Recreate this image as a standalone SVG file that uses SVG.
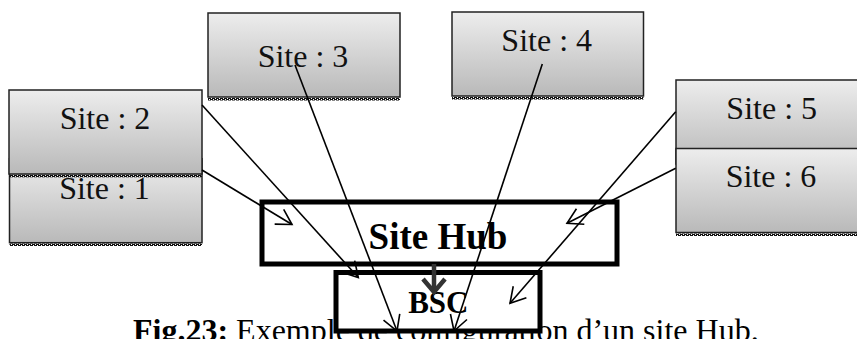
<svg xmlns="http://www.w3.org/2000/svg" width="857" height="339" viewBox="0 0 857 339">
  <defs>
    <linearGradient id="siteFill" x1="0" y1="0" x2="0" y2="1">
      <stop offset="0" stop-color="#ededed"/>
      <stop offset="1" stop-color="#b9b9b9"/>
    </linearGradient>
    <!-- checkered strip under each site box -->
    <pattern id="shade" width="4" height="2" patternUnits="userSpaceOnUse">
      <rect x="0" y="0" width="3" height="1" fill="#111"/>
      <rect x="2" y="1" width="2" height="1" fill="#111"/>
      <rect x="0" y="1" width="1" height="1" fill="#111"/>
    </pattern>
    <marker id="openArrow" viewBox="-20 -12 24 24" refX="0" refY="0" markerWidth="24" markerHeight="24" markerUnits="userSpaceOnUse" orient="auto" overflow="visible">
      <path d="M -15 -8.7 L 0 0 L -15 8.7" fill="none" stroke="#000" stroke-width="1.6"/>
    </marker>
    <style>
      .site { fill: url(#siteFill); stroke: #222; stroke-width: 1.5; }
      .shade { fill: url(#shade); }
      .lbl { font-family: "Liberation Serif", "Times New Roman", serif; font-size: 32px; fill: #111; text-anchor: middle; }
      .core { fill: #fff; stroke: #000; stroke-width: 5; }
      .coreLbl { font-family: "Liberation Serif", "Times New Roman", serif; font-weight: bold; fill: #000; text-anchor: middle; }
      .link { fill: none; stroke: #000; stroke-width: 1.6; marker-end: url(#openArrow); }
      .caption { font-family: "Liberation Serif", "Times New Roman", serif; font-size: 32px; fill: #000; }
    </style>
  </defs>

  <rect width="857" height="339" fill="#fff"/>

  <!-- remote sites -->
  <g id="node-site-1">
    <rect class="site" x="9.5" y="158.7" width="192.5" height="84"/>
    <rect class="shade" x="9.5" y="243.5" width="192.5" height="2.5"/>
    <text class="lbl" x="104.5" y="199.3">Site : 1</text>
  </g>
  <g id="node-site-5">
    <rect class="site" x="676" y="80" width="192" height="84"/>
    <text class="lbl" x="771.7" y="119.3">Site : 5</text>
  </g>
  <g id="node-site-2">
    <rect class="site" x="9" y="90" width="193" height="84"/>
    <rect class="shade" x="9" y="174.8" width="193" height="2.5"/>
    <text class="lbl" x="105" y="129.3">Site : 2</text>
  </g>
  <g id="node-site-3">
    <rect class="site" x="208" y="13" width="192" height="84"/>
    <rect class="shade" x="208" y="98" width="192" height="2.5"/>
    <text class="lbl" x="303" y="66.7">Site : 3</text>
  </g>
  <g id="node-site-4">
    <rect class="site" x="452" y="12" width="191.5" height="84"/>
    <rect class="shade" x="452" y="97" width="191.5" height="2.5"/>
    <text class="lbl" x="546.7" y="50.5">Site : 4</text>
  </g>
  <g id="node-site-6">
    <rect class="site" x="676" y="148.5" width="192" height="84"/>
    <rect class="shade" x="676" y="233.5" width="192" height="2.5"/>
    <text class="lbl" x="771" y="187.3">Site : 6</text>
  </g>

  <!-- figure caption, partly hidden behind the BSC box -->
  <g id="caption">
    <text class="caption" x="133" y="341"><tspan font-weight="bold">Fig.23:</tspan> Exemple de configuration d’un site Hub.</text>
  </g>

  <!-- aggregation hub and controller -->
  <g id="node-hub">
    <rect class="core" x="262" y="202" width="355" height="62"/>
    <text class="coreLbl" x="438" y="249" font-size="37">Site Hub</text>
  </g>
  <g id="node-bsc">
    <rect class="core" x="336" y="272.5" width="204" height="58.5"/>
    <text class="coreLbl" x="438.3" y="313.3" font-size="31">BSC</text>
  </g>

  <!-- links from the sites -->
  <g id="connectors">
    <line class="link" x1="202" y1="170" x2="292" y2="224.5"/>
    <line class="link" x1="202" y1="105" x2="358.3" y2="277.5"/>
    <line class="link" x1="295" y1="65" x2="397" y2="331"/>
    <line class="link" x1="542.3" y1="64" x2="454" y2="331"/>
    <line class="link" x1="675.7" y1="111.7" x2="510" y2="303.3"/>
    <line class="link" x1="675.7" y1="168.3" x2="567" y2="223.3"/>
    <!-- hub to BSC uplink -->
    <g id="hub-to-bsc" stroke="#333" stroke-width="4.5" fill="none">
      <line x1="434" y1="264" x2="434" y2="290"/>
      <path d="M 423 279 L 434 292 L 445 279"/>
    </g>
  </g>
</svg>
